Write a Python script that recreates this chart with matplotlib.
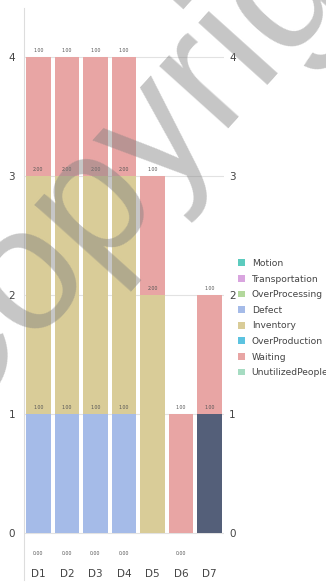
import numpy as np
import matplotlib
matplotlib.use('Agg')
import matplotlib.pyplot as plt
from matplotlib.patches import Patch

days = ['D1', 'D2', 'D3', 'D4', 'D5', 'D6', 'D7']
categories = ['Motion', 'Transportation', 'OverProcessing', 'Defect',
              'Inventory', 'OverProduction', 'Waiting', 'UnutilizedPeople']
colors = ['#5ccbbe', '#d9a5df', '#b3d89c', '#a5bbe8',
          '#d9cc98', '#5cc3e0', '#e8a5a4', '#a6dcc2']

# stacked values per category (bottom to top: Defect, Inventory, Waiting)
motion = [0, 0, 0, 0, None, 0, None]
defect = [1, 1, 1, 1, 0, 0, 1]
inventory = [2, 2, 2, 2, 2, 0, 0]
waiting = [1, 1, 1, 1, 1, 1, 1]
yticks = [0, 1, 2, 3, 4]

# D7 defect bar shown in the darker highlight colour
highlight_color = '#545f79'
highlight_day = 'D7'

fig = plt.figure(figsize=(3.26, 5.83), dpi=100)
ax = fig.add_axes([24 / 326, 3 / 583, 200 / 326, 572 / 583])
ax.set_xlim(-0.5, 6.5)
ax.set_ylim(-0.395, 4.41)

x = np.arange(len(days))
width = 0.86
lbl_kw = dict(ha='center', va='bottom', fontsize=3.4, color='#555555')

bottom = np.zeros(len(days))
stack = [('Defect', defect), ('Inventory', inventory), ('Waiting', waiting)]
for name, vals in stack:
    c = colors[categories.index(name)]
    for i, v in enumerate(vals):
        if v == 0:
            continue
        fc = highlight_color if (name == 'Defect' and days[i] == highlight_day) else c
        ax.bar(x[i], v, width, bottom=bottom[i], color=fc, zorder=2)
        ax.text(x[i], bottom[i] + v + 0.03, f'{v:.2f}', zorder=3, **lbl_kw)
    bottom += np.array(vals)

for i, v in enumerate(motion):
    if v is None:
        continue
    ax.text(x[i], -0.17, f'{v:.2f}', ha='center', va='center',
            fontsize=3.4, color='#555555')

for d, xi in zip(days, x):
    ax.text(xi, -0.345, d, ha='center', va='center', fontsize=7.5, color='#444444')

ax.set_xticks([])
ax.set_yticks(yticks)
ax.tick_params(axis='y', length=0, labelsize=7.5, labelcolor='#444444', pad=6.5)
ax.grid(axis='y', color='#e2e2e2', linewidth=0.8, zorder=1)
for s in ['top', 'right', 'bottom']:
    ax.spines[s].set_visible(False)
ax.spines['left'].set_color('#dddddd')
ax.spines['left'].set_linewidth(0.8)

# same scale repeated on the right
ax2 = ax.twinx()
ax2.set_ylim(ax.get_ylim())
ax2.set_yticks(yticks)
ax2.tick_params(axis='y', length=0, labelsize=7.5, labelcolor='#444444', pad=3.6)
for s in ax2.spines.values():
    s.set_visible(False)

handles = [Patch(facecolor=c, edgecolor='none') for c in colors]
fig.legend(handles, categories, loc='upper left', bbox_to_anchor=(238 / 326, 1 - 259 / 583),
           frameon=False, fontsize=6.6, handlelength=0.75, handleheight=0.75,
           handletextpad=0.75, labelspacing=0.72, borderaxespad=0, borderpad=0,
           labelcolor='#444444')

# watermark across the chart
fig.text(-57 / 326, 1 - 436 / 583, 'Copyright', fontsize=127, color='#808080', alpha=0.45,
         family='Liberation Sans', rotation=48, rotation_mode='anchor',
         ha='left', va='baseline', zorder=10)

fig.savefig('out.png', dpi=100)
